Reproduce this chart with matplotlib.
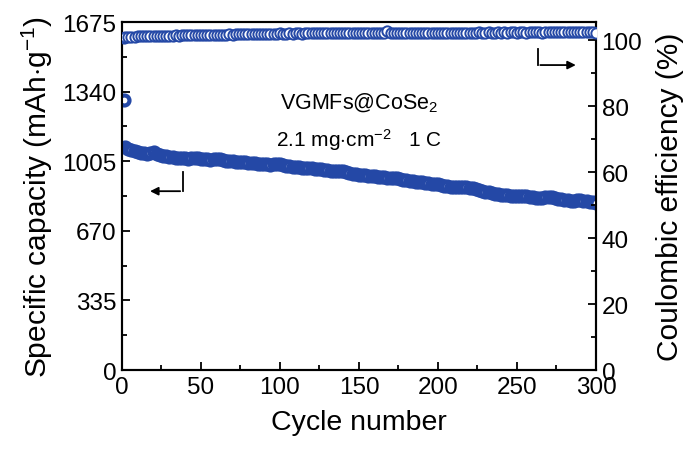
import numpy as np
import matplotlib
matplotlib.use("Agg")
import matplotlib.pyplot as plt

plt.rcParams['font.family'] = ['Liberation Sans', 'DejaVu Sans']
plt.rcParams['mathtext.fontset'] = 'custom'
plt.rcParams['mathtext.rm'] = 'Liberation Sans'
plt.rcParams['mathtext.it'] = 'Liberation Sans'

# cycle 1 then every 2nd cycle
cycles = [1] + list(range(2, 301, 2))

capacity = [1300,
    1073, 1065, 1058, 1053, 1050, 1046, 1043, 1041, 1046, 1048,
    1042, 1036, 1031, 1028, 1026, 1024, 1022, 1021, 1020, 1019,
    1018, 1020, 1022, 1021, 1018, 1016, 1014, 1013, 1016, 1018,
    1015, 1011, 1008, 1006, 1004, 1003, 1002, 1001, 1000, 999,
    997, 996, 994, 993, 991, 990, 989, 990, 993, 991,
    987, 984, 981, 979, 977, 976, 974, 973, 972, 971,
    970, 968, 966, 964, 962, 960, 958, 957, 959, 958,
    954, 950, 946, 943, 941, 939, 938, 936, 935, 933,
    931, 929, 927, 926, 925, 926, 924, 920, 916, 913,
    911, 909, 907, 905, 903, 901, 899, 898, 896, 894,
    891, 888, 885, 883, 881, 880, 881, 882, 880, 877,
    874, 870, 866, 862, 858, 855, 852, 849, 847, 845,
    843, 841, 839, 837, 836, 838, 840, 838, 835, 832,
    830, 828, 829, 832, 833, 831, 828, 825, 822, 820,
    818, 816, 815, 817, 818, 815, 812, 810, 808, 805]

efficiency = [100.6,
    100.9, 101.0, 101.1, 101.1, 101.2, 101.2, 101.2, 101.3, 101.3, 101.3,
    101.3, 101.4, 101.3, 101.4, 101.4, 101.4, 101.5, 101.4, 101.5, 101.5,
    101.5, 101.5, 101.6, 101.5, 101.6, 101.6, 101.6, 101.6, 101.7, 101.6,
    101.7, 101.7, 101.7, 101.8, 101.7, 101.8, 101.8, 101.8, 101.8, 101.9,
    101.8, 101.9, 101.9, 101.9, 101.9, 102.0, 101.9, 102.0, 102.0, 102.1,
    102.0, 102.0, 102.1, 102.0, 102.1, 102.1, 102.0, 102.1, 102.1, 102.1,
    102.1, 102.2, 102.1, 102.1, 102.2, 102.1, 102.2, 102.2, 102.1, 102.2,
    102.2, 102.1, 102.2, 102.2, 102.2, 102.1, 102.2, 102.2, 102.2, 102.1,
    102.2, 102.2, 102.3, 102.9, 102.2, 102.2, 102.1, 102.2, 102.2, 102.2,
    102.2, 102.3, 102.2, 102.2, 102.3, 102.2, 102.3, 102.2, 102.3, 102.3,
    102.3, 102.2, 102.3, 102.3, 102.2, 102.3, 102.3, 102.3, 102.2, 102.3,
    102.3, 102.3, 102.4, 102.3, 102.3, 102.4, 102.3, 102.3, 102.4, 102.3,
    102.4, 102.3, 102.4, 102.4, 102.3, 102.4, 102.4, 102.3, 102.4, 102.4,
    102.4, 102.4, 102.3, 102.4, 102.4, 102.4, 102.5, 102.4, 102.4, 102.4,
    102.4, 102.5, 102.4, 102.4, 102.5, 102.4, 102.5, 102.5, 102.4, 102.3]

left_ticks = [0, 335, 670, 1005, 1340, 1675]
right_ticks = [0, 20, 40, 60, 80, 100]
x_ticks = [0, 50, 100, 150, 200, 250, 300]

blue = '#2448a6'

fig = plt.figure(figsize=(6.89, 4.52), dpi=100)
ax = fig.add_axes([0.177, 0.179, 0.688, 0.770])
ax2 = ax.twinx()

ax.plot(cycles, capacity, 'o', ms=7.2, mfc='white', mec=blue, mew=3.0, zorder=3)
ax2.plot(cycles, efficiency, 'o', ms=7.4, mfc='white', mec=blue, mew=1.4, zorder=3)

ax.set_xlim(0, 300)
ax.set_ylim(0, 1675)
ax2.set_ylim(0, 105.5)
ax.set_xticks(x_ticks)
ax.set_xticks(np.arange(25, 300, 50), minor=True)
ax.set_yticks(left_ticks)
ax.set_yticks(np.arange(167.5, 1675, 335), minor=True)
ax2.set_yticks(right_ticks)
ax2.set_yticks(np.arange(10, 105, 20), minor=True)

for a in (ax, ax2):
    a.tick_params(which='both', direction='in', width=1.3, labelsize=17.5, pad=4)
    a.tick_params(which='major', length=6)
    a.tick_params(which='minor', length=3.5)
    for s in a.spines.values():
        s.set_linewidth(1.5)
ax.tick_params(top=False, which='both')

ax.set_xlabel('Cycle number', fontsize=20.5, labelpad=8)
ax.set_ylabel('Specific capacity (mAh$\\cdot$g$^{-1}$)', fontsize=21.5, labelpad=5)
ax2.set_ylabel('Coulombic efficiency (%)', fontsize=21.5, labelpad=10)

ax.text(150, 1290, 'VGMFs@CoSe$_2$', fontsize=15.5, ha='center', va='center')
ax.text(150, 1110, '2.1 mg$\\cdot$cm$^{-2}$   1 C', fontsize=15, ha='center', va='center')

# direction arrows
ax.plot([38.6, 38.6], [953, 861], color='black', lw=1.3)
ax.annotate('', xy=(16, 861), xytext=(38.6, 861),
            arrowprops=dict(arrowstyle='-|>', color='black', lw=1.3, mutation_scale=12))
ax.plot([263, 263], [1545, 1468], color='black', lw=1.3)
ax.annotate('', xy=(289, 1468), xytext=(263, 1468),
            arrowprops=dict(arrowstyle='-|>', color='black', lw=1.3, mutation_scale=12))

fig.savefig('out.png', dpi=100)
